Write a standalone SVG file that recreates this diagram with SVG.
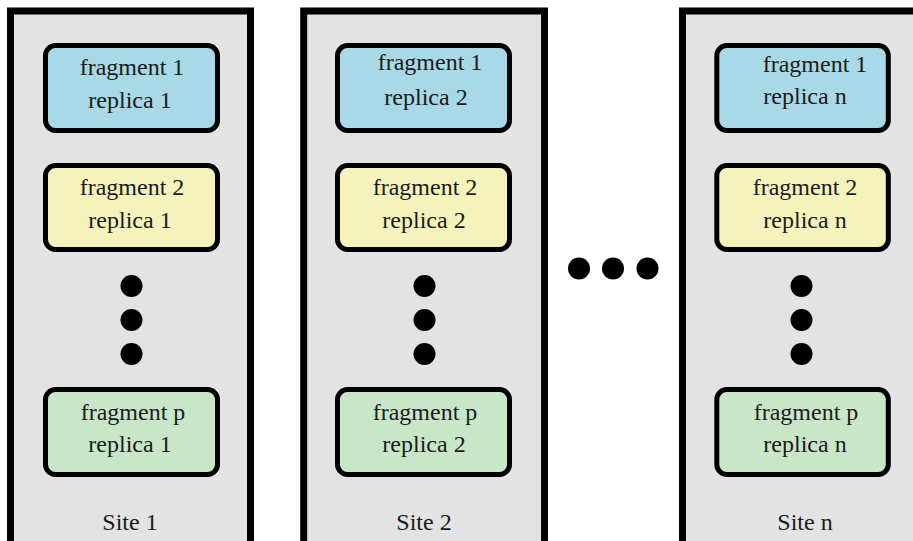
<svg xmlns="http://www.w3.org/2000/svg" width="913" height="541" viewBox="0 0 913 541">
  <style>
    .site { fill: #e3e3e3; stroke: #000; stroke-width: 7; }
    .frag { stroke: #000; stroke-width: 5; }
    .f1 { fill: #a9d8e6; }
    .f2 { fill: #f5f2bb; }
    .fp { fill: #c9e6c8; }
    text { font-family: "Liberation Serif", "Times New Roman", serif; font-size: 24px; fill: #1a1a1a; text-anchor: middle; }
    .dot { fill: #000; }
  </style>
  <rect width="913" height="541" fill="#ffffff"/>

  <!-- Site 1 -->
  <g id="site1">
    <rect class="site" x="10.5" y="11" width="240" height="545"/>
    <text x="130" y="530">Site 1</text>
  </g>
  <g id="s1-frag1">
    <rect class="frag f1" x="45.5" y="45.5" width="172" height="85" rx="10"/>
    <text x="132" y="75">fragment 1</text>
    <text x="130" y="108">replica 1</text>
  </g>
  <g id="s1-frag2">
    <rect class="frag f2" x="45.5" y="165.5" width="172" height="84" rx="10"/>
    <text x="132" y="195">fragment 2</text>
    <text x="130" y="228">replica 1</text>
  </g>
  <g id="s1-dots">
    <circle class="dot" cx="131.5" cy="286" r="11"/>
    <circle class="dot" cx="131.5" cy="320" r="11"/>
    <circle class="dot" cx="131.5" cy="354" r="11"/>
  </g>
  <g id="s1-fragp">
    <rect class="frag fp" x="45.5" y="389.5" width="172" height="85" rx="10"/>
    <text x="133" y="420">fragment p</text>
    <text x="130" y="452">replica 1</text>
  </g>

  <!-- Site 2 -->
  <g id="site2">
    <rect class="site" x="303.7" y="11" width="240.8" height="545"/>
    <text x="424" y="530">Site 2</text>
  </g>
  <g id="s2-frag1">
    <rect class="frag f1" x="337.5" y="45.5" width="172" height="85" rx="10"/>
    <text x="430" y="70">fragment 1</text>
    <text x="426" y="105">replica 2</text>
  </g>
  <g id="s2-frag2">
    <rect class="frag f2" x="337.5" y="165.5" width="172" height="84" rx="10"/>
    <text x="425" y="195">fragment 2</text>
    <text x="424" y="228">replica 2</text>
  </g>
  <g id="s2-dots">
    <circle class="dot" cx="424.5" cy="286" r="11"/>
    <circle class="dot" cx="424.5" cy="320" r="11"/>
    <circle class="dot" cx="424.5" cy="354" r="11"/>
  </g>
  <g id="s2-fragp">
    <rect class="frag fp" x="337.5" y="389.5" width="172" height="85" rx="10"/>
    <text x="425" y="420">fragment p</text>
    <text x="424" y="452">replica 2</text>
  </g>

  <!-- Ellipsis between sites -->
  <g id="between-dots">
    <circle class="dot" cx="579" cy="268.5" r="11"/>
    <circle class="dot" cx="613" cy="268.5" r="11"/>
    <circle class="dot" cx="647.5" cy="268.5" r="11"/>
  </g>

  <!-- Site n -->
  <g id="siten">
    <rect class="site" x="682.5" y="11" width="240" height="545"/>
    <text x="805" y="530">Site n</text>
  </g>
  <g id="sn-frag1">
    <rect class="frag f1" x="716.8" y="45.5" width="171.5" height="85" rx="10"/>
    <text x="815" y="72">fragment 1</text>
    <text x="805" y="104">replica n</text>
  </g>
  <g id="sn-frag2">
    <rect class="frag f2" x="716.8" y="165.5" width="171.5" height="84" rx="10"/>
    <text x="805" y="195">fragment 2</text>
    <text x="805" y="228">replica n</text>
  </g>
  <g id="sn-dots">
    <circle class="dot" cx="801.5" cy="286" r="11"/>
    <circle class="dot" cx="801.5" cy="320" r="11"/>
    <circle class="dot" cx="801.5" cy="354" r="11"/>
  </g>
  <g id="sn-fragp">
    <rect class="frag fp" x="716.8" y="389.5" width="171.5" height="85" rx="10"/>
    <text x="806" y="420">fragment p</text>
    <text x="805" y="452">replica n</text>
  </g>

  <g id="connectors"/>
</svg>
